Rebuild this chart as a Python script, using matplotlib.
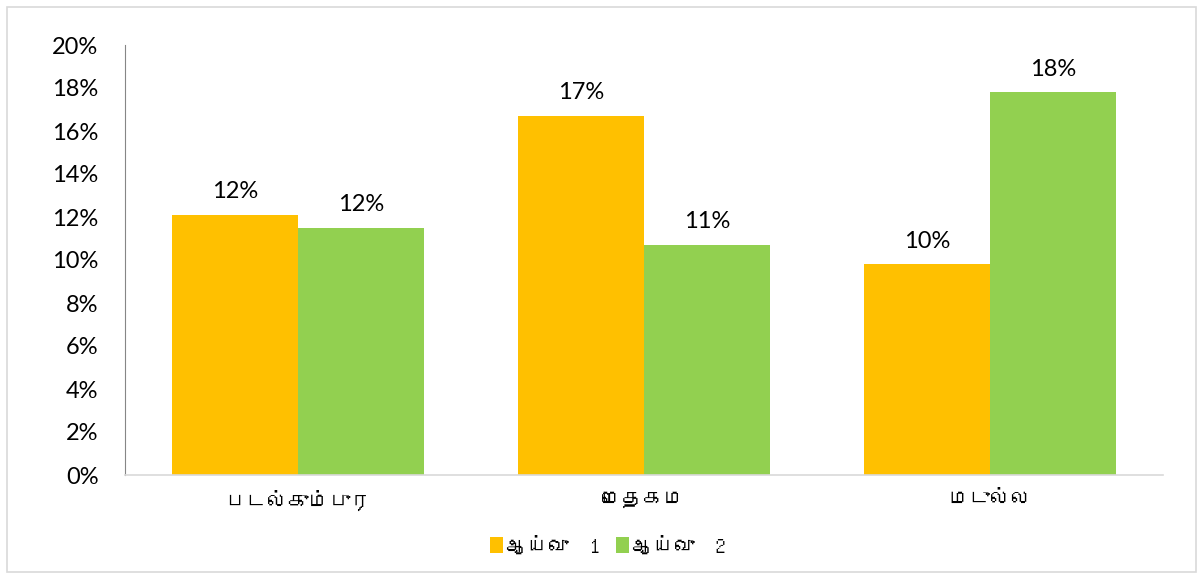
import matplotlib
matplotlib.use('Agg')
import matplotlib.pyplot as plt
import numpy as np
from matplotlib import font_manager
from matplotlib.ft2font import FT2Font
from matplotlib.patches import Rectangle

# data
categories = ['படல்கும்புர', 'மெதகம', 'மடுல்ல']
series_names = ['ஆய்வு  1', 'ஆய்வு  2']
survey1 = [12.1, 16.7, 9.8]
survey2 = [11.5, 10.7, 17.8]
labels1 = ['12%', '17%', '10%']
labels2 = ['12%', '11%', '18%']
yticks = [0, 2, 4, 6, 8, 10, 12, 14, 16, 18, 20]

ORANGE = '#FFC000'
GREEN = '#92D050'


def find_tamil_font():
    # look for any installed font that has Tamil glyphs
    for f in font_manager.fontManager.ttflist:
        try:
            ft = FT2Font(f.fname)
            if ft.get_char_index(ord('ஆ')) and ft.get_char_index(ord('ம')):
                return f.name
        except Exception:
            pass
    return None


tamil = find_tamil_font()
print("tamil font:", tamil)
tamil_family = [tamil, 'DejaVu Sans'] if tamil else ['DejaVu Sans']
num_family = ['Lato', 'DejaVu Sans']

fig = plt.figure(figsize=(12.04, 5.79), dpi=100)
# light grey outer frame
fig.patches.append(Rectangle((7 / 1204, 7 / 579), 1189 / 1204, 565 / 579,
                             transform=fig.transFigure, fill=False,
                             edgecolor='#D9D9D9', linewidth=1.2))

ax = fig.add_axes([125 / 1204, (579 - 475) / 579, 1038 / 1204, 430 / 579])

x = np.arange(len(categories))
w = 0.364
b1 = ax.bar(x - w / 2, survey1, w, color=ORANGE, label=series_names[0])
b2 = ax.bar(x + w / 2, survey2, w, color=GREEN, label=series_names[1])

for bars, labs in ((b1, labels1), (b2, labels2)):
    for r, t in zip(bars, labs):
        ax.annotate(t, (r.get_x() + r.get_width() / 2, r.get_height()),
                    xytext=(0, 9), textcoords='offset points',
                    ha='center', va='bottom', fontsize=17, family=num_family)

ax.set_xlim(-0.5, 2.5)
ax.set_ylim(0, 20)
ax.set_yticks(yticks)
ax.set_yticklabels(['%d%%' % v for v in yticks], family=num_family, fontsize=17)
ax.set_xticks(x)
ax.set_xticklabels(categories, family=tamil_family, fontsize=15)
ax.tick_params(axis='both', length=0)
ax.tick_params(axis='y', pad=19)
ax.tick_params(axis='x', pad=11)

ax.spines['top'].set_visible(False)
ax.spines['right'].set_visible(False)
ax.spines['left'].set_color('#868686')
ax.spines['bottom'].set_color('#D9D9D9')
ax.spines['bottom'].set_linewidth(1.2)

# legend centred on the whole chart area, like the spreadsheet original
fig.legend(handles=[b1, b2], labels=series_names, loc='center',
           bbox_to_anchor=(0.505, 0.057), ncol=2, frameon=False,
           prop={'family': tamil_family, 'size': 15}, handlelength=0.6,
           handleheight=0.8, handletextpad=0.15, columnspacing=0.8)

fig.savefig('out.png', dpi=100)
